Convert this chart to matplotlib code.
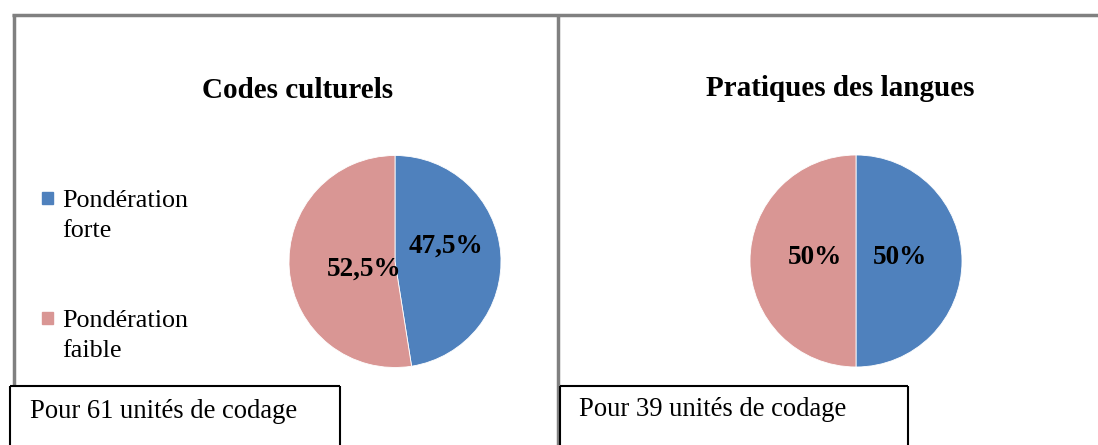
import matplotlib.pyplot as plt
from matplotlib.lines import Line2D
from matplotlib.patches import Rectangle

# Données des deux graphiques
categories = ['Pondération forte', 'Pondération faible']
titres = ['Codes culturels', 'Pratiques des langues']
codes_culturels = [47.5, 52.5]
pratiques_langues = [50, 50]
unites = [61, 39]
couleurs = ['#4F81BD', '#D99694']

W, H = 1098, 445
plt.rcParams['font.family'] = ['Liberation Serif', 'DejaVu Serif']

fig = plt.figure(figsize=(W / 100, H / 100), dpi=100)


# coordonnées en pixels -> fraction de la figure
def fx(x):
    return x / W


def fy(y):
    return 1 - y / H


def ligne(x0, y0, x1, y1, couleur, lw):
    fig.add_artist(Line2D([fx(x0), fx(x1)], [fy(y0), fy(y1)], color=couleur,
                          lw=lw, transform=fig.transFigure, solid_capstyle='butt'))


# cadre gris
gris = '#808080'
ligne(12, 15, W, 15, gris, 2.5)
ligne(13.5, 14, 13.5, 386, gris, 2.5)
ligne(558, 14, 558, H, gris, 2.5)

# encadrés du bas
for x0, x1, y0 in [(10, 340, 386), (560, 908, 385.5)]:
    ligne(x0, H, x0, y0, 'black', 1.5)
    ligne(x0, y0, x1, y0, 'black', 1.5)
    ligne(x1, y0, x1, H, 'black', 1.5)


def format_pct(v):
    return f"{v:g}".replace('.', ',') + '%'


def camembert(cx, cy, r, valeurs, positions):
    ax = fig.add_axes([fx(cx - r), fy(cy + r), 2 * r / W, 2 * r / H])
    ax.pie(valeurs, colors=couleurs, startangle=90, counterclock=False,
           wedgeprops=dict(linewidth=0.6, edgecolor='white'))
    ax.set_xlim(-1, 1)
    ax.set_ylim(-1, 1)
    ax.set_aspect('auto')
    ax.axis('off')
    for v, (px, py) in zip(valeurs, positions):
        ax.text(px, py, format_pct(v), ha='center', va='center',
                fontsize=19.5, fontweight='bold')
    return ax


camembert(395, 261.5, 106, codes_culturels, [(0.48, 0.14), (-0.29, -0.07)])
camembert(856, 261, 106, pratiques_langues, [(0.41, 0.03), (-0.39, 0.03)])

# titres
fig.text(fx(298), fy(90), titres[0], ha='center', va='center',
         fontsize=21, fontweight='bold')
fig.text(fx(840), fy(88), titres[1], ha='center', va='center',
         fontsize=21, fontweight='bold')

# légende
for i, (cat, y) in enumerate(zip(categories, [198, 318])):
    fig.add_artist(Rectangle((fx(42), fy(y + 6)), 11 / W, 12 / H,
                             color=couleurs[i], transform=fig.transFigure))
    mots = cat.split(' ')
    fig.text(fx(62), fy(y + 9), mots[0], ha='left', va='baseline', fontsize=18.8)
    fig.text(fx(62), fy(y + 39), mots[1], ha='left', va='baseline', fontsize=18.8)

# nombre d'unités de codage
fig.text(fx(30), fy(418), f"Pour {unites[0]} unités de codage", ha='left',
         va='baseline', fontsize=19.2)
fig.text(fx(579), fy(416), f"Pour {unites[1]} unités de codage", ha='left',
         va='baseline', fontsize=19.2)

fig.savefig('out.png', dpi=100)
